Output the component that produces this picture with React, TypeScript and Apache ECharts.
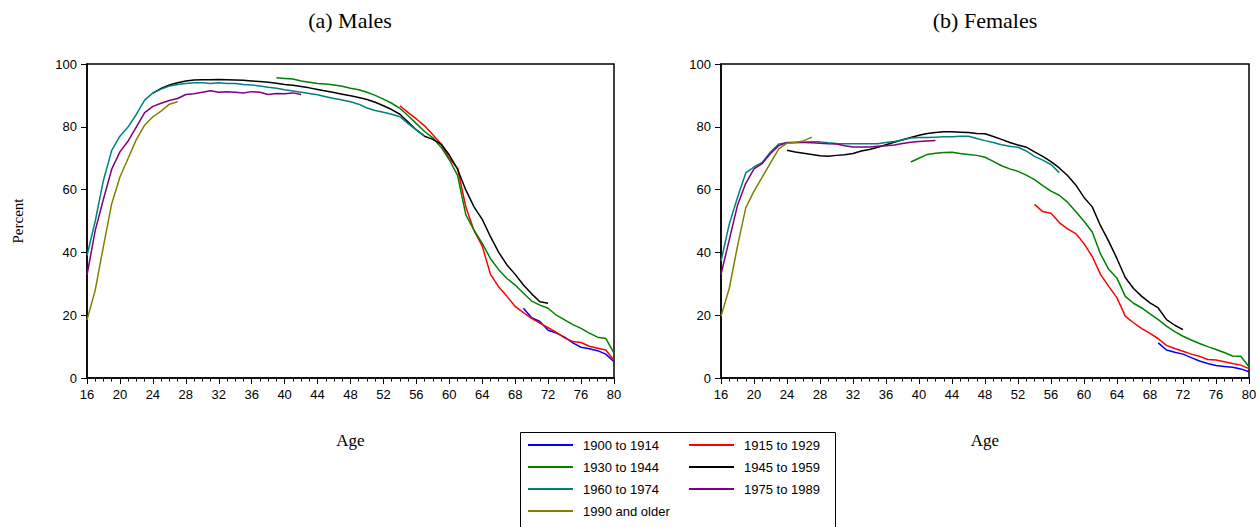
import React, { useEffect, useRef } from "react";
import * as echarts from "echarts";

// ---------- data ----------
const COHORTS = ["1900 to 1914", "1915 to 1929", "1930 to 1944", "1945 to 1959", "1960 to 1974", "1975 to 1989", "1990 and older"];
const COLORS = ["#0000ff", "#ff0000", "#008000", "#000000", "#008080", "#800080", "#808000"];
const START_AGES = [69, 54, 39, 24, 16, 16, 16];
const X_TICKS = [16, 20, 24, 28, 32, 36, 40, 44, 48, 52, 56, 60, 64, 68, 72, 76, 80];
const Y_TICKS = [0, 20, 40, 60, 80, 100];

// Males
const M_1900 = [22.2, 19.2, 18, 15.2, 14.3, 13, 11.2, 9.8, 9.3, 8.7, 7.6, 5.2];
const M_1915 = [86.7, 84.5, 82.5, 80.3, 77.5, 74.5, 70, 66.8, 54.5, 47, 42, 33, 29, 26, 22.8, 20.8, 19, 17.5, 16, 14.5, 12.8, 11.6, 11.3, 10.1, 9.5, 8.9, 5.7];
const M_1930 = [95.6, 95.4, 95.2, 94.6, 94.2, 93.8, 93.6, 93.3, 92.9, 92.3, 91.8, 91, 90, 88.8, 87.5, 85.9, 83.5, 81, 78.5, 76.5, 73.5, 69.5, 64.5, 52, 47.1, 42.9, 38, 34.5, 31.7, 29.6, 27, 24.5, 23.2, 22.2, 20, 18.5, 17, 15.8, 14.3, 13, 12.6, 7.9];
const M_1945 = [90.7, 92.2, 93.3, 94, 94.6, 94.9, 95, 95, 95.1, 95, 94.9, 94.8, 94.6, 94.4, 94.2, 93.9, 93.5, 93.2, 92.8, 92.4, 91.9, 91.4, 90.9, 90.4, 89.9, 89.3, 88.7, 87.8, 86.7, 85.5, 84, 81.5, 79, 77, 76, 74.5, 71, 66.5, 59.9, 54.5, 50.5, 45, 40, 36, 33, 29.6, 26.8, 24.3, 23.8];
const M_1960 = [39, 50, 63, 72.5, 77, 80, 84, 88.5, 90.8, 92, 93, 93.5, 93.8, 94, 94, 93.8, 94, 93.8, 93.8, 93.5, 93.3, 93, 92.6, 92.3, 91.8, 91.4, 91, 90.6, 90.2, 89.6, 89, 88.5, 88, 87.2, 86, 85.2, 84.6, 84, 83.2, 81, 79, 77];
const M_1975 = [32.8, 47, 57, 66.5, 72, 75.5, 80, 84.5, 86.5, 87.5, 88.4, 89, 90.3, 90.5, 91, 91.5, 91, 91.2, 91, 90.8, 91.2, 91, 90.3, 90.6, 90.5, 90.8, 90.3];
const M_1990 = [18.5, 28, 42, 55.5, 64, 70, 76, 80.5, 83.2, 85, 87.2, 88];

// Females
const F_1900 = [11.2, 8.9, 8.2, 7.6, 6.5, 5.4, 4.6, 4, 3.7, 3.4, 2.9, 2];
const F_1915 = [55.3, 53, 52.5, 49.5, 47.5, 46, 42.8, 38.7, 33, 29.2, 25.5, 19.7, 17.6, 15.7, 14.2, 12.5, 10.4, 9.4, 8.5, 7.6, 6.9, 5.9, 5.7, 5.2, 4.6, 4.1, 3];
const F_1930 = [68.8, 70, 71.2, 71.6, 71.8, 71.9, 71.5, 71.2, 70.9, 70.3, 69, 67.6, 66.6, 65.8, 64.6, 63.2, 61.3, 59.5, 58.2, 56, 53, 49.9, 46.5, 39.5, 34.6, 31.8, 26, 23.8, 22.3, 20.4, 18.6, 16.5, 14.8, 13.3, 12.1, 11, 10, 9.1, 8.1, 7, 6.9, 3.6];
const F_1945 = [72.5, 72, 71.6, 71.2, 70.8, 70.6, 70.9, 71.1, 71.5, 72.3, 72.8, 73.5, 74.3, 75.1, 75.9, 76.6, 77.3, 77.9, 78.2, 78.4, 78.4, 78.3, 78.2, 77.9, 77.8, 76.9, 76, 75, 74.2, 73.5, 72, 70.6, 68.9, 66.9, 64.5, 61.5, 57.5, 54.5, 48.5, 43.5, 38, 32, 28.5, 26, 23.9, 22.3, 18.6, 16.8, 15.4];
const F_1960 = [37.2, 49, 57.5, 65.3, 67.2, 68.7, 72, 74.5, 74.9, 75, 75.1, 75.2, 75.2, 74.9, 74.7, 74.6, 74.6, 74.6, 74.6, 74.6, 75, 75.3, 75.8, 76.4, 76.6, 76.6, 76.7, 76.8, 76.8, 77, 77, 76.3, 75.6, 75, 74.3, 73.8, 73.5, 72.3, 70.6, 69.4, 68, 65.4];
const F_1975 = [33, 44, 55, 62, 66.6, 68.3, 71.5, 74, 75, 75, 75, 74.9, 74.8, 74.6, 74.5, 74, 73.6, 73.6, 73.6, 73.8, 74, 74.2, 74.7, 75.1, 75.3, 75.5, 75.6];
const F_1990 = [19.7, 28.5, 42, 54.2, 59.5, 64, 68.5, 73, 74.8, 75, 75.5, 76.7];

const MALES = [M_1900, M_1915, M_1930, M_1945, M_1960, M_1975, M_1990];
const FEMALES = [F_1900, F_1915, F_1930, F_1945, F_1960, F_1975, F_1990];

const SANS = "Liberation Sans, Arial, sans-serif";
const SERIF = "Liberation Serif, Times New Roman, serif";

function toPairs(values: number[], start: number) {
  return values.map((v, i) => [start + i, v]);
}

function xAxisCfg(gridIndex: number) {
  return {
    type: "value",
    gridIndex,
    min: X_TICKS[0],
    max: X_TICKS[X_TICKS.length - 1],
    interval: 4,
    name: "Age",
    nameLocation: "middle",
    nameGap: 54,
    nameTextStyle: { fontFamily: SERIF, fontSize: 17, color: "#000" },
    axisLine: { show: true, onZero: false, lineStyle: { color: "#000", width: 1.5 } },
    axisTick: { show: true, inside: false, length: 6, lineStyle: { color: "#000", width: 1 } },
    minorTick: { show: true, splitNumber: 4, length: 3.5, lineStyle: { color: "#000", width: 1 } },
    splitLine: { show: false },
    axisLabel: { fontFamily: SANS, fontSize: 13, color: "#000", margin: 10 },
  };
}

function yAxisCfg(gridIndex: number, withName: boolean) {
  return {
    type: "value",
    gridIndex,
    min: Y_TICKS[0],
    max: Y_TICKS[Y_TICKS.length - 1],
    interval: 20,
    name: withName ? "Percent" : "",
    nameLocation: "middle",
    nameGap: 62,
    nameRotate: 90,
    nameTextStyle: { fontFamily: SERIF, fontSize: 15, color: "#000" },
    axisLine: { show: true, onZero: false, lineStyle: { color: "#000", width: 1.5 } },
    axisTick: { show: true, inside: false, length: 6, lineStyle: { color: "#000", width: 1 } },
    splitLine: { show: false },
    axisLabel: { fontFamily: SANS, fontSize: 13, color: "#000", margin: 10 },
  };
}

export default function App() {
  const ref = useRef<HTMLDivElement>(null);

  useEffect(() => {
    if (!ref.current) return;
    document.body.style.margin = "0";
    document.body.style.overflow = "hidden";
    const chart = echarts.init(ref.current, undefined, { renderer: "svg" });

    const series: any[] = [];
    [MALES, FEMALES].forEach((panel, p) => {
      panel.forEach((vals, i) => {
        series.push({
          name: COHORTS[i],
          type: "line",
          xAxisIndex: p,
          yAxisIndex: p,
          data: toPairs(vals, START_AGES[i]),
          symbol: "none",
          showSymbol: false,
          smooth: false,
          lineStyle: { color: COLORS[i], width: 1.5 },
          itemStyle: { color: COLORS[i] },
          emphasis: { disabled: true },
        });
      });
    });

    chart.setOption({
      animation: false,
      backgroundColor: "#ffffff",
      title: [
        { text: "(a) Males", left: 345, top: 4, textAlign: "center", textStyle: { fontFamily: SERIF, fontSize: 22, fontWeight: "normal", color: "#000" } },
        { text: "(b) Females", left: 980, top: 4, textAlign: "center", textStyle: { fontFamily: SERIF, fontSize: 22, fontWeight: "normal", color: "#000" } },
      ],
      grid: [
        { left: 87, right: 646, top: 64, bottom: 149, show: true, borderColor: "#000", borderWidth: 1.5, backgroundColor: "transparent" },
        { left: 721, right: 11, top: 64, bottom: 149, show: true, borderColor: "#000", borderWidth: 1.5, backgroundColor: "transparent" },
      ],
      xAxis: [xAxisCfg(0), xAxisCfg(1)],
      yAxis: [yAxisCfg(0, true), yAxisCfg(1, false)],
      legend: {
        show: true,
        orient: "horizontal",
        left: 528,
        top: 438,
        width: 320,
        padding: 0,
        itemGap: 8,
        itemWidth: 45,
        itemHeight: 2,
        icon: "rect",
        data: COHORTS,
        textStyle: { fontFamily: SANS, fontSize: 13, color: "#000", width: 98, lineHeight: 14, padding: [0, 0, 0, 5] },
        selectedMode: false,
      },
      graphic: [
        { type: "rect", left: 518, top: 430, shape: { width: 315, height: 95 }, style: { fill: "none", stroke: "#000", lineWidth: 1 }, silent: true },
      ],
      series,
    });

    return () => chart.dispose();
  }, []);

  return <div ref={ref} style={{ position: "fixed", left: 0, top: 0, width: 1260, height: 527 }} />;
}
